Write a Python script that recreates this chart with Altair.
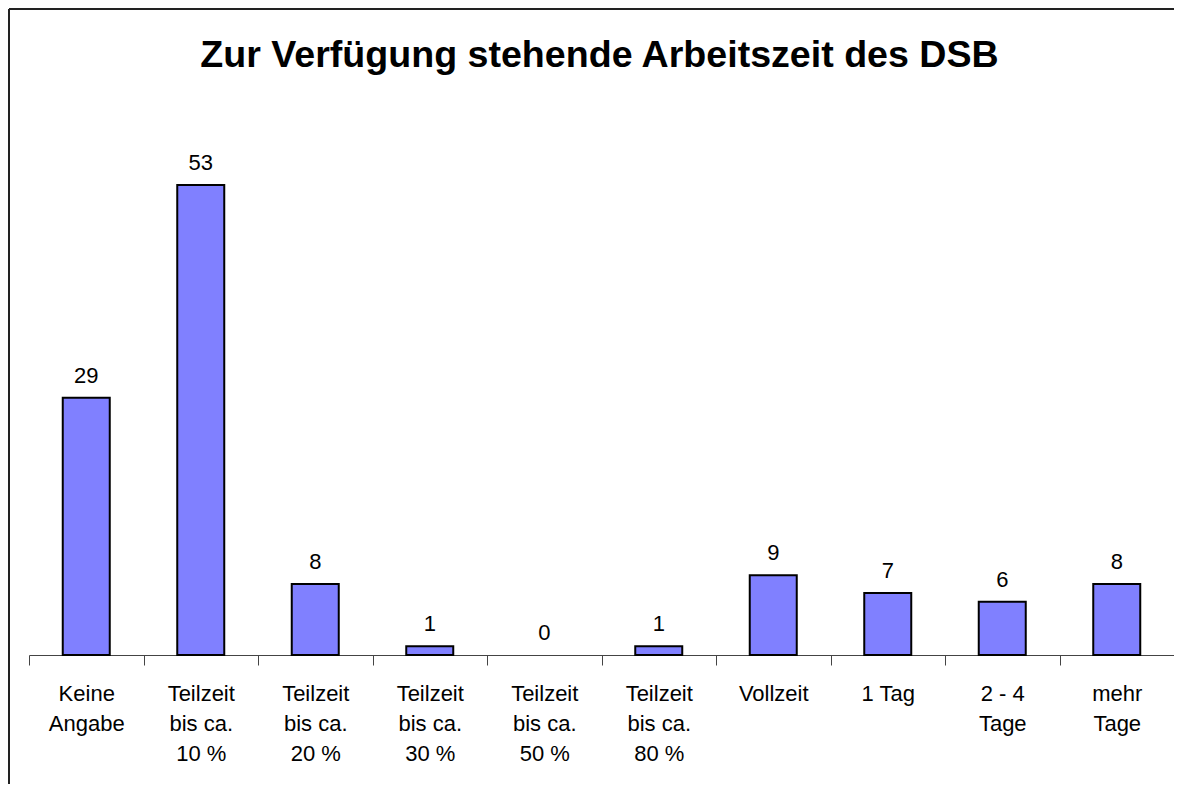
import altair as alt
import pandas as pd

categories = ["Keine\nAngabe", "Teilzeit\nbis ca.\n10 %", "Teilzeit\nbis ca.\n20 %", "Teilzeit\nbis ca.\n30 %",
              "Teilzeit\nbis ca.\n50 %", "Teilzeit\nbis ca.\n80 %", "Vollzeit", "1 Tag", "2 - 4\nTage", "mehr\nTage"]
values = [29, 53, 8, 1, 0, 1, 9, 7, 6, 8]
title = "Zur Verfügung stehende Arbeitszeit des DSB"

df = pd.DataFrame({"cat": categories, "val": values})
one = pd.DataFrame({"t": [title]})
W, H = 1145, 532
FONT = "Liberation Sans"

x = alt.X("cat:N", sort=categories, title=None,
          scale=alt.Scale(paddingInner=0, paddingOuter=0),
          axis=alt.Axis(labelExpr="split(datum.label, '\\n')", labelAngle=0, labelFontSize=22,
                        labelFont=FONT, labelColor="black", labelLineHeight=30, labelPadding=18,
                        tickBand="extent", tickSize=10, tickColor="#444", domainColor="#444",
                        labelBaseline="top"))
y = alt.Y("val:Q", scale=alt.Scale(domain=[0, 60]), axis=None)

bars = alt.Chart(df).mark_bar(size=47, color="#8080FF", stroke="black", strokeWidth=2).encode(
    x=x, y=y,
    strokeOpacity=alt.condition("datum.val == 0", alt.value(0), alt.value(1)),
    fillOpacity=alt.condition("datum.val == 0", alt.value(0), alt.value(1)))
texts = alt.Chart(df).mark_text(fontSize=22, font=FONT, baseline="bottom", dy=-10, color="black").encode(
    x=x, y=y, text="val:Q")
frame_left = alt.Chart(one).mark_rule(stroke="#222", strokeWidth=2).encode(
    x=alt.value(-20), y=alt.value(-114), y2=alt.value(H + 129))
frame_top = alt.Chart(one).mark_rule(stroke="#222", strokeWidth=2).encode(
    y=alt.value(-114), x=alt.value(-20), x2=alt.value(W))
title_text = alt.Chart(one).mark_text(fontSize=37.6, font=FONT, fontWeight="bold", baseline="alphabetic",
                                      align="center", color="black").encode(
    x=alt.value(W / 2 - 2), y=alt.value(-56), text="t:N")

chart = alt.layer(frame_left, frame_top, bars, texts, title_text).properties(
    width=W, height=H,
    autosize=alt.AutoSizeParams(type="none"),
    padding={"left": 21, "top": 115, "right": 0, "bottom": 129},
).configure_view(strokeWidth=0, stroke="transparent")

chart.save("out.html", embed_options={"renderer": "svg", "actions": False})
